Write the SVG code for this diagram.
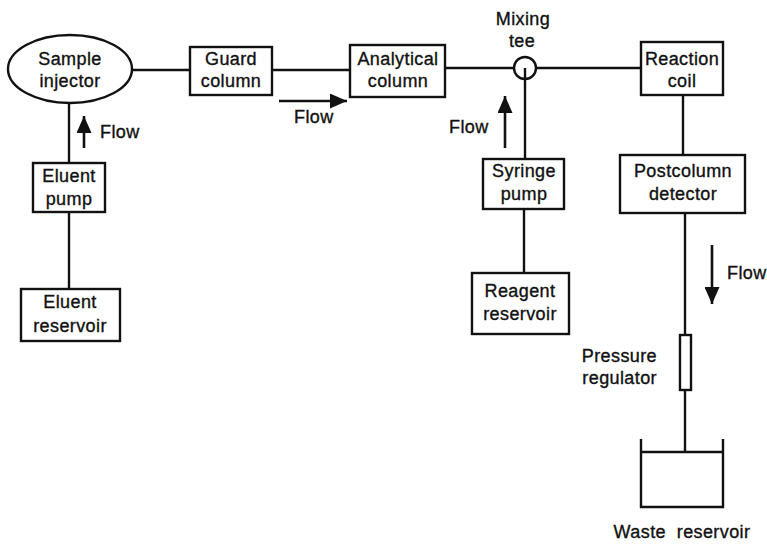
<svg xmlns="http://www.w3.org/2000/svg" width="767" height="544" viewBox="0 0 767 544">
  <style>
    .box { fill: #fff; stroke: #111; stroke-width: 2.4; }
    .line { fill: none; stroke: #111; stroke-width: 2.4; }
    .arrow { fill: none; stroke: #111; stroke-width: 2.6; }
    text { font-family: "Liberation Sans", Arial, sans-serif; font-size: 18px; fill: #111; stroke: #111; stroke-width: 0.35; letter-spacing: 0.4px; text-anchor: middle; }
    .left { text-anchor: start; }
    .right { text-anchor: end; }
  </style>
  <defs>
    <marker id="head" markerWidth="17" markerHeight="15" refX="17" refY="7.5" orient="auto" markerUnits="userSpaceOnUse">
      <path d="M0,0 L17,7.5 L0,15 Z" fill="#111"/>
    </marker>
  </defs>
  <rect width="767" height="544" fill="#fff"/>

  <!-- connectors -->
  <g id="connectors">
    <line class="line" x1="132" y1="70" x2="190" y2="70"/>
    <line class="line" x1="272" y1="70" x2="350" y2="70"/>
    <line class="line" x1="445" y1="68" x2="514" y2="68"/>
    <line class="line" x1="536" y1="68" x2="641" y2="68"/>
    <line class="line" x1="525" y1="68" x2="525" y2="159"/>
    <line class="line" x1="524" y1="209" x2="524" y2="273"/>
    <line class="line" x1="69" y1="103" x2="69" y2="163"/>
    <line class="line" x1="69" y1="212" x2="69" y2="289"/>
    <line class="line" x1="683" y1="95" x2="683" y2="155"/>
    <line class="line" x1="685" y1="213" x2="685" y2="335"/>
    <line class="line" x1="685" y1="390" x2="685" y2="452"/>
    <!-- flow arrows -->
    <line class="arrow" x1="84" y1="148" x2="84" y2="116" marker-end="url(#head)"/>
    <line class="arrow" x1="279" y1="101" x2="347" y2="101" marker-end="url(#head)"/>
    <line class="arrow" x1="505" y1="148" x2="505" y2="96" marker-end="url(#head)"/>
    <line class="arrow" x1="712" y1="245" x2="712" y2="304" marker-end="url(#head)"/>
  </g>

  <!-- flow labels -->
  <text class="left" x="100" y="138">Flow</text>
  <text class="left" x="294" y="123">Flow</text>
  <text class="left" x="449" y="133">Flow</text>
  <text class="left" x="727" y="279">Flow</text>

  <g id="sample-injector">
    <ellipse class="box" cx="70" cy="69" rx="62" ry="34"/>
    <text x="70" y="65">Sample</text>
    <text x="70" y="87">injector</text>
  </g>

  <g id="guard-column">
    <rect class="box" x="190" y="47" width="82" height="48"/>
    <text x="231" y="65">Guard</text>
    <text x="231" y="87">column</text>
  </g>

  <g id="analytical-column">
    <rect class="box" x="350" y="45" width="95" height="52"/>
    <text x="398" y="65">Analytical</text>
    <text x="398" y="87">column</text>
  </g>

  <g id="mixing-tee">
    <circle class="line" cx="525" cy="68" r="11"/>
    <text x="523" y="25">Mixing</text>
    <text x="522" y="47">tee</text>
  </g>

  <g id="reaction-coil">
    <rect class="box" x="641" y="42" width="82" height="53"/>
    <text x="682" y="65">Reaction</text>
    <text x="682" y="87">coil</text>
  </g>

  <g id="postcolumn-detector">
    <rect class="box" x="620" y="155" width="125" height="58"/>
    <text x="683" y="177">Postcolumn</text>
    <text x="683" y="200">detector</text>
  </g>

  <g id="syringe-pump">
    <rect class="box" x="483" y="159" width="81" height="50"/>
    <text x="524" y="177">Syringe</text>
    <text x="524" y="200">pump</text>
  </g>

  <g id="reagent-reservoir">
    <rect class="box" x="472" y="273" width="97" height="61"/>
    <text x="520" y="297">Reagent</text>
    <text x="520" y="320">reservoir</text>
  </g>

  <g id="eluent-pump">
    <rect class="box" x="33" y="163" width="72" height="49"/>
    <text x="69" y="182">Eluent</text>
    <text x="69" y="205">pump</text>
  </g>

  <g id="eluent-reservoir">
    <rect class="box" x="21" y="289" width="99" height="52"/>
    <text x="70" y="308">Eluent</text>
    <text x="70" y="332">reservoir</text>
  </g>

  <g id="pressure-regulator">
    <rect class="box" x="680" y="335" width="11" height="55"/>
    <text class="right" x="657" y="362">Pressure</text>
    <text class="right" x="657" y="384">regulator</text>
  </g>

  <g id="waste-reservoir">
    <path class="line" d="M641,439 L641,507 L723,507 L723,439 M641,452 L723,452"/>
    <text x="682" y="538" xml:space="preserve">Waste  reservoir</text>
  </g>
</svg>
